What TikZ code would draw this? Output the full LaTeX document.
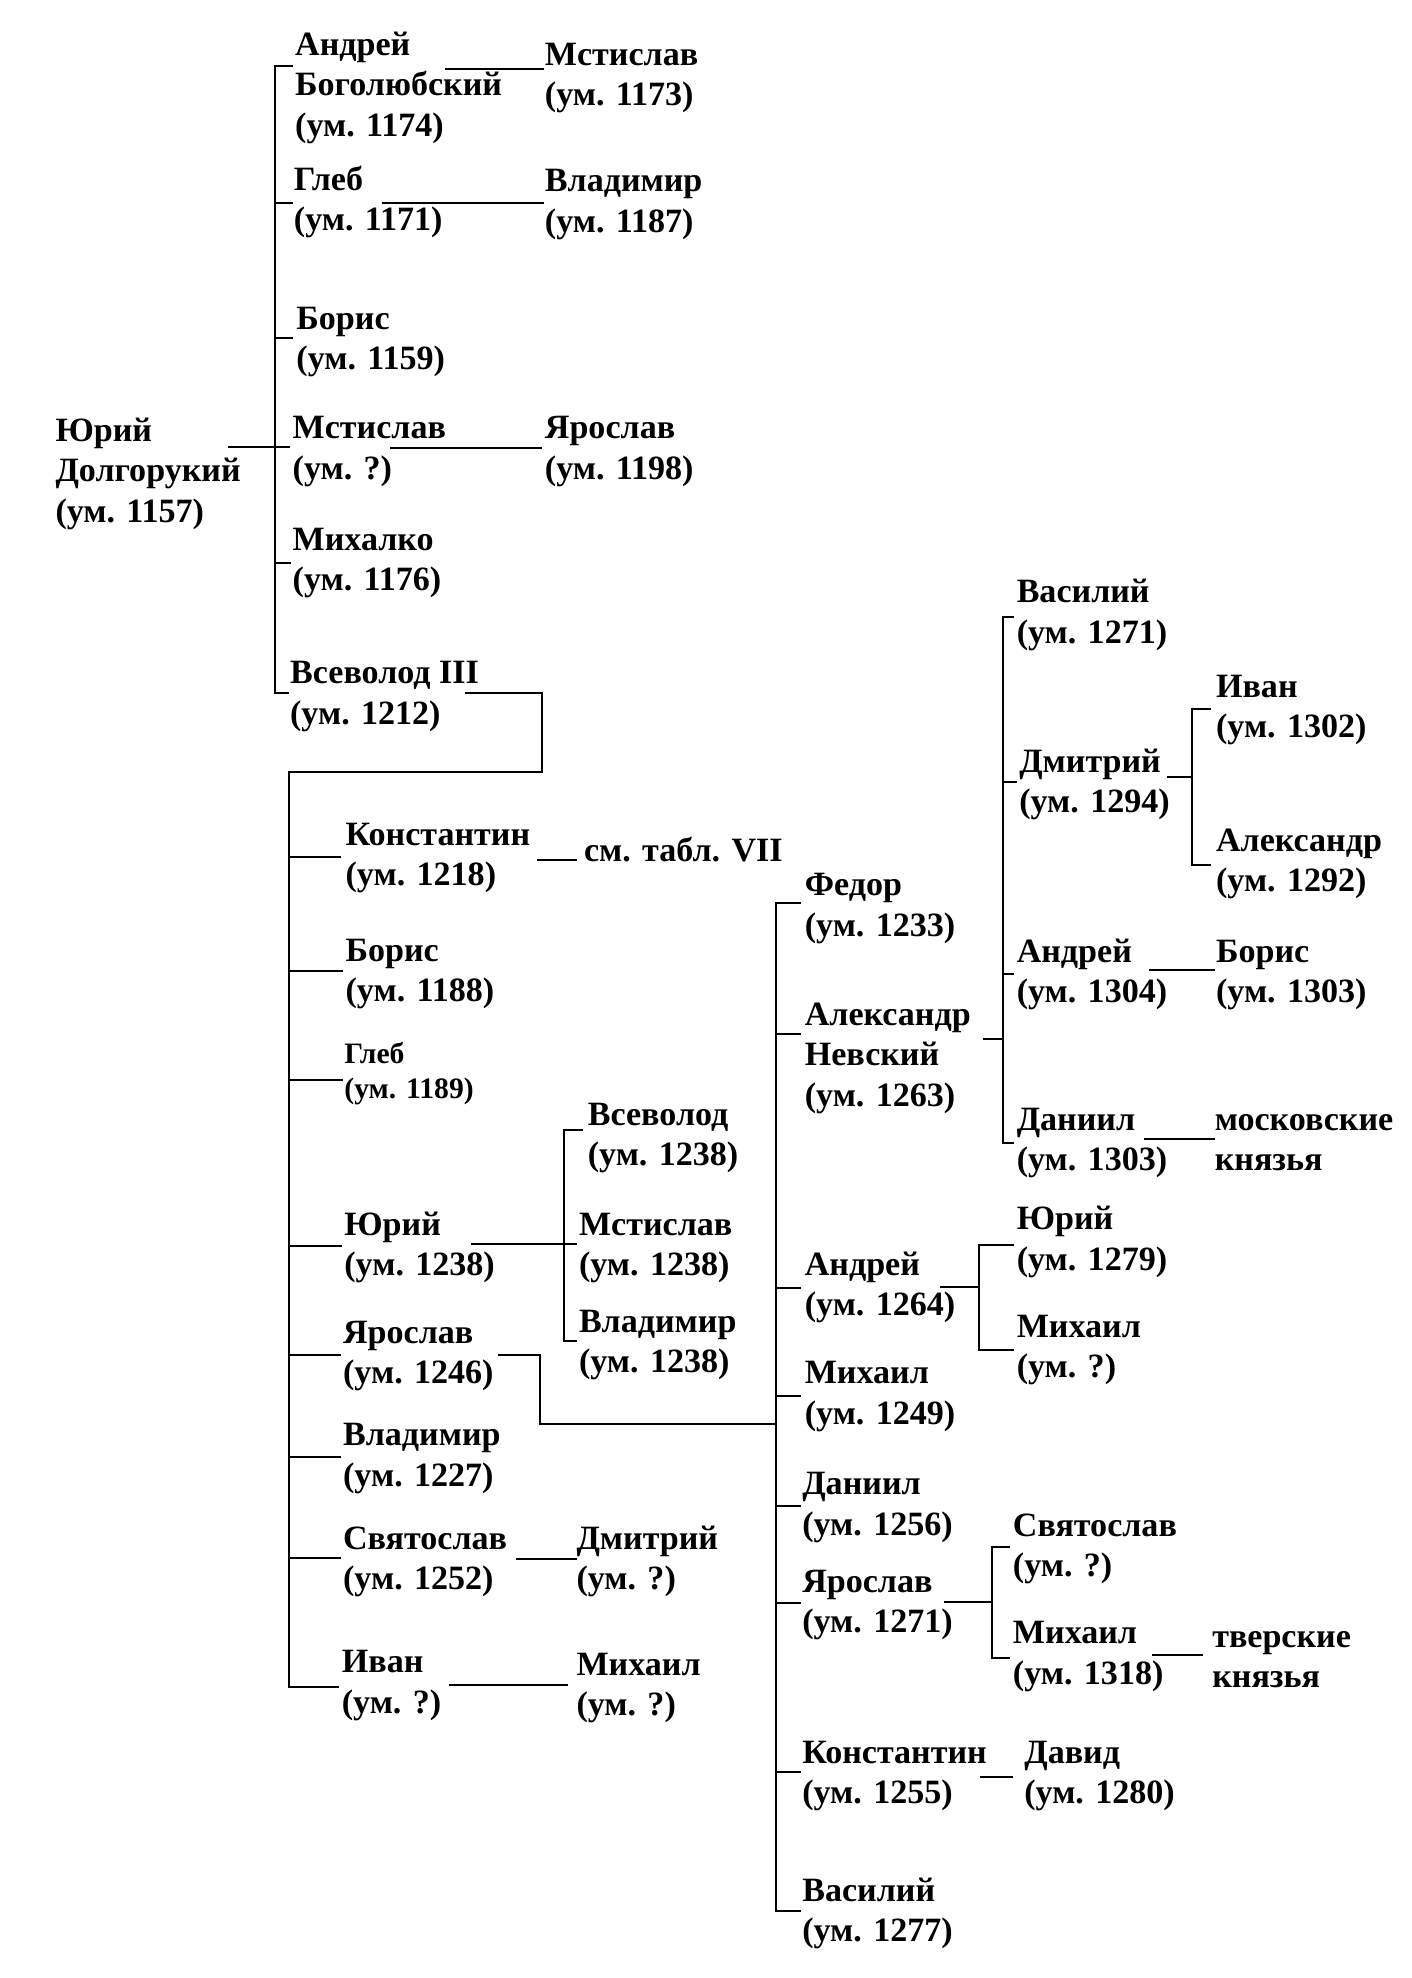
\documentclass[tikz,border=0pt]{standalone}
\usepackage{fontspec}
\setmainfont{Liberation Serif}
\usetikzlibrary{calc}
\newcommand\ptx[1]{\begin{tabular}[t]{@{}l@{}}#1\end{tabular}}
\begin{document}
\begin{tikzpicture}[x=1pt,y=-1pt,
  person/.style={anchor=base west,inner sep=0pt,outer sep=0pt,font=\fontsize{27}{32}\selectfont\bfseries},
  smallperson/.style={person,font=\fontsize{23.5}{28}\selectfont\bfseries},
  link/.style={line width=1.6pt}]
\useasboundingbox (0,0) rectangle (1119,1568);
% ---------- nodes ----------
\node[person] (r) at (44,350) {\ptx{Юрий\\Долгорукий\\(ум. 1157)}};
\node[person] (a1) at (234,44) {\ptx{Андрей\\Боголюбский\\(ум. 1174)}};
\node[person] (a2) at (233,151) {\ptx{Глеб\\(ум. 1171)}};
\node[person] (a3) at (235,261) {\ptx{Борис\\(ум. 1159)}};
\node[person] (a4) at (232,348) {\ptx{Мстислав\\(ум. ?)}};
\node[person] (a5) at (232,436) {\ptx{Михалко\\(ум. 1176)}};
\node[person] (a6) at (230,542) {\ptx{Всеволод III\\(ум. 1212)}};
\node[person] (g1) at (432,52) {\ptx{Мстислав\\(ум. 1173)}};
\node[person] (g2) at (432,152) {\ptx{Владимир\\(ум. 1187)}};
\node[person] (g3) at (432,348) {\ptx{Ярослав\\(ум. 1198)}};
\node[person] (b1) at (274,670) {\ptx{Константин\\(ум. 1218)}};
\node[person] (tab) at (463,683) {см. табл. VII};
\node[person] (b2) at (274,762) {\ptx{Борис\\(ум. 1188)}};
\node[smallperson] (b3) at (273,843) {\ptx{Глеб\\(ум. 1189)}};
\node[person] (b4) at (273,979) {\ptx{Юрий\\(ум. 1238)}};
\node[person] (b5) at (272,1065) {\ptx{Ярослав\\(ум. 1246)}};
\node[person] (b6) at (272,1146) {\ptx{Владимир\\(ум. 1227)}};
\node[person] (b7) at (272,1228) {\ptx{Святослав\\(ум. 1252)}};
\node[person] (b8) at (271,1326) {\ptx{Иван\\(ум. ?)}};
\node[person] (y1) at (466,892) {\ptx{Всеволод\\(ум. 1238)}};
\node[person] (y2) at (459,979) {\ptx{Мстислав\\(ум. 1238)}};
\node[person] (y3) at (459,1056) {\ptx{Владимир\\(ум. 1238)}};
\node[person] (sd) at (457,1228) {\ptx{Дмитрий\\(ум. ?)}};
\node[person] (im) at (457,1328) {\ptx{Михаил\\(ум. ?)}};
\node[person] (c1) at (638,710) {\ptx{Федор\\(ум. 1233)}};
\node[person] (c2) at (638,813) {\ptx{Александр\\Невский\\(ум. 1263)}};
\node[person] (c3) at (638,1011) {\ptx{Андрей\\(ум. 1264)}};
\node[person] (c4) at (638,1097) {\ptx{Михаил\\(ум. 1249)}};
\node[person] (c5) at (636,1185) {\ptx{Даниил\\(ум. 1256)}};
\node[person] (c6) at (636,1262) {\ptx{Ярослав\\(ум. 1271)}};
\node[person] (c7) at (636,1398) {\ptx{Константин\\(ум. 1255)}};
\node[person] (c8) at (636,1507) {\ptx{Василий\\(ум. 1277)}};
\node[person] (d1) at (806,478) {\ptx{Василий\\(ум. 1271)}};
\node[person] (d2) at (808,612) {\ptx{Дмитрий\\(ум. 1294)}};
\node[person] (d3) at (806,763) {\ptx{Андрей\\(ум. 1304)}};
\node[person] (d4) at (806,896) {\ptx{Даниил\\(ум. 1303)}};
\node[person] (e1) at (964,553) {\ptx{Иван\\(ум. 1302)}};
\node[person] (e2) at (964,675) {\ptx{Александр\\(ум. 1292)}};
\node[person] (e3) at (964,763) {\ptx{Борис\\(ум. 1303)}};
\node[person] (e4) at (963,896) {\ptx{московские\\князья}};
\node[person] (f1) at (806,975) {\ptx{Юрий\\(ум. 1279)}};
\node[person] (f2) at (806,1060) {\ptx{Михаил\\(ум. ?)}};
\node[person] (h1) at (803,1218) {\ptx{Святослав\\(ум. ?)}};
\node[person] (h2) at (803,1303) {\ptx{Михаил\\(ум. 1318)}};
\node[person] (h3) at (961,1306) {\ptx{тверские\\князья}};
\node[person] (k1) at (812,1398) {\ptx{Давид\\(ум. 1280)}};
% ---------- spine coordinates ----------
\coordinate (s1) at (218,0);
\coordinate (s2) at (229,0);
\coordinate (s3) at (615,0);
\coordinate (s4) at (795,0);
\coordinate (s5) at (945,0);
\coordinate (s6) at (776,0);
\coordinate (s7) at (786,0);
\coordinate (s8) at (447,0);
\coordinate (v1) at (430,612);
\coordinate (v2) at (428,1129);
% ---------- tick points ----------
\coordinate (a1t) at ($(a1.base west)+(-2,8)$);
\coordinate (a2t) at ($(a2.base west)+(-1,10)$);
\coordinate (a3t) at ($(a3.base west)+(-3,7)$);
\coordinate (a4t) at ($(a4.base west)+(-2,6)$);
\coordinate (a5t) at ($(a5.base west)+(-1,10)$);
\coordinate (a6t) at ($(a6.base west)+(-1,7)$);
\coordinate (b1t) at ($(b1.base west)+(-4,9)$);
\coordinate (b2t) at ($(b2.base west)+(-2,8)$);
\coordinate (b3t) at ($(b3.base west)+(-1,13)$);
\coordinate (b4t) at ($(b4.base west)+(-2,9)$);
\coordinate (b5t) at ($(b5.base west)+(-2,9)$);
\coordinate (b6t) at ($(b6.base west)+(-2,9)$);
\coordinate (b7t) at ($(b7.base west)+(-2,7)$);
\coordinate (b8t) at ($(b8.base west)+(-2,11)$);
\coordinate (y1t) at ($(y1.base west)+(-4,4)$);
\coordinate (y2t) at ($(y2.base west)+(-2,7)$);
\coordinate (y3t) at ($(y3.base west)+(-2,7)$);
\coordinate (c1t) at ($(c1.base west)+(-3,6)$);
\coordinate (c2t) at ($(c2.base west)+(-3,7)$);
\coordinate (c3t) at ($(c3.base west)+(-3,10)$);
\coordinate (c4t) at ($(c4.base west)+(-3,10)$);
\coordinate (c5t) at ($(c5.base west)+(-1,9)$);
\coordinate (c6t) at ($(c6.base west)+(-1,9)$);
\coordinate (c7t) at ($(c7.base west)+(-1,7)$);
\coordinate (c8t) at ($(c8.base west)+(-1,8)$);
\coordinate (d1t) at ($(d1.base west)+(-2,11)$);
\coordinate (d2t) at ($(d2.base west)+(-2,8)$);
\coordinate (d3t) at ($(d3.base west)+(-2,9)$);
\coordinate (d4t) at ($(d4.base west)+(-2,10)$);
\coordinate (e1t) at ($(e1.base west)+(-4,9)$);
\coordinate (e2t) at ($(e2.base west)+(-4,11)$);
\coordinate (f1t) at ($(f1.base west)+(-2,12)$);
\coordinate (f2t) at ($(f2.base west)+(-2,10)$);
\coordinate (h1t) at ($(h1.base west)+(-2,8)$);
\coordinate (h2t) at ($(h2.base west)+(-2,11)$);
% ---------- generation 1 ----------
\draw[link] ($(r.base west)+(137,4)$) -- (a4t);
\draw[link] (a1t) -| (s1 |- a6t) -- (a6t);
\foreach \n in {a2t,a3t,a5t} \draw[link] (s1 |- \n) -- (\n);
\draw[link] ($(a1.base west)+(119,11)$) -- ($(g1.base west)+(-1,3)$);
\draw[link] ($(a2.base west)+(70,10)$) -- ($(g2.base west)+(-1,9)$);
\draw[link] ($(a4.base west)+(77,7)$) -- ($(g3.base west)+(-2,7)$);
% ---------- Vsevolod's children ----------
\draw[link] ($(a6.base west)+(139,7)$) -| (v1) -| (s2 |- b8t) -- (b8t);
\foreach \n in {b1t,b2t,b3t,b4t,b5t,b6t,b7t} \draw[link] (s2 |- \n) -- (\n);
\draw[link] ($(b1.base west)+(152,12)$) -- ($(tab.base west)+(-6,-1)$);
\draw[link] ($(b4.base west)+(100,7)$) -- (y2t);
\draw[link] (y1t) -| (s8 |- y3t) -- (y3t);
\draw[link] ($(b7.base west)+(137,8)$) -- ($(sd.base west)+(0,8)$);
\draw[link] ($(b8.base west)+(85,10)$) -- ($(im.base west)+(-7,8)$);
% ---------- Yaroslav's children ----------
\draw[link] ($(b5.base west)+(123,9)$) -| (v2) -- (s3 |- v2);
\draw[link] (c1t) -| (s3 |- c8t) -- (c8t);
\foreach \n in {c2t,c3t,c4t,c5t,c6t,c7t} \draw[link] (s3 |- \n) -- (\n);
% Alexander Nevsky
\coordinate (c2r) at ($(c2.base west)+(141,11)$);
\draw[link] (c2r) -- (s4 |- c2r);
\draw[link] (d1t) -| (s4 |- d4t) -- (d4t);
\foreach \n in {d2t,d3t} \draw[link] (s4 |- \n) -- (\n);
\coordinate (d2r) at ($(d2.base west)+(117,4)$);
\draw[link] (d2r) -- (s5 |- d2r);
\draw[link] (e1t) -| (s5 |- e2t) -- (e2t);
\draw[link] ($(d3.base west)+(105,6)$) -- ($(e3.base west)+(-1,6)$);
\draw[link] ($(d4.base west)+(101,7)$) -- ($(e4.base west)+(0,7)$);
% Andrei (1264)
\coordinate (c3r) at ($(c3.base west)+(107,9)$);
\draw[link] (c3r) -- (s6 |- c3r);
\draw[link] (f1t) -| (s6 |- f2t) -- (f2t);
% Yaroslav (1271)
\coordinate (c6r) at ($(c6.base west)+(112,8)$);
\draw[link] (c6r) -- (s7 |- c6r);
\draw[link] (h1t) -| (s7 |- h2t) -- (h2t);
\draw[link] ($(h2.base west)+(110,9)$) -- ($(h3.base west)+(-7,6)$);
% Konstantin (1255)
\draw[link] ($(c7.base west)+(141,11)$) -- ($(k1.base west)+(-9,11)$);
\end{tikzpicture}
\end{document}
